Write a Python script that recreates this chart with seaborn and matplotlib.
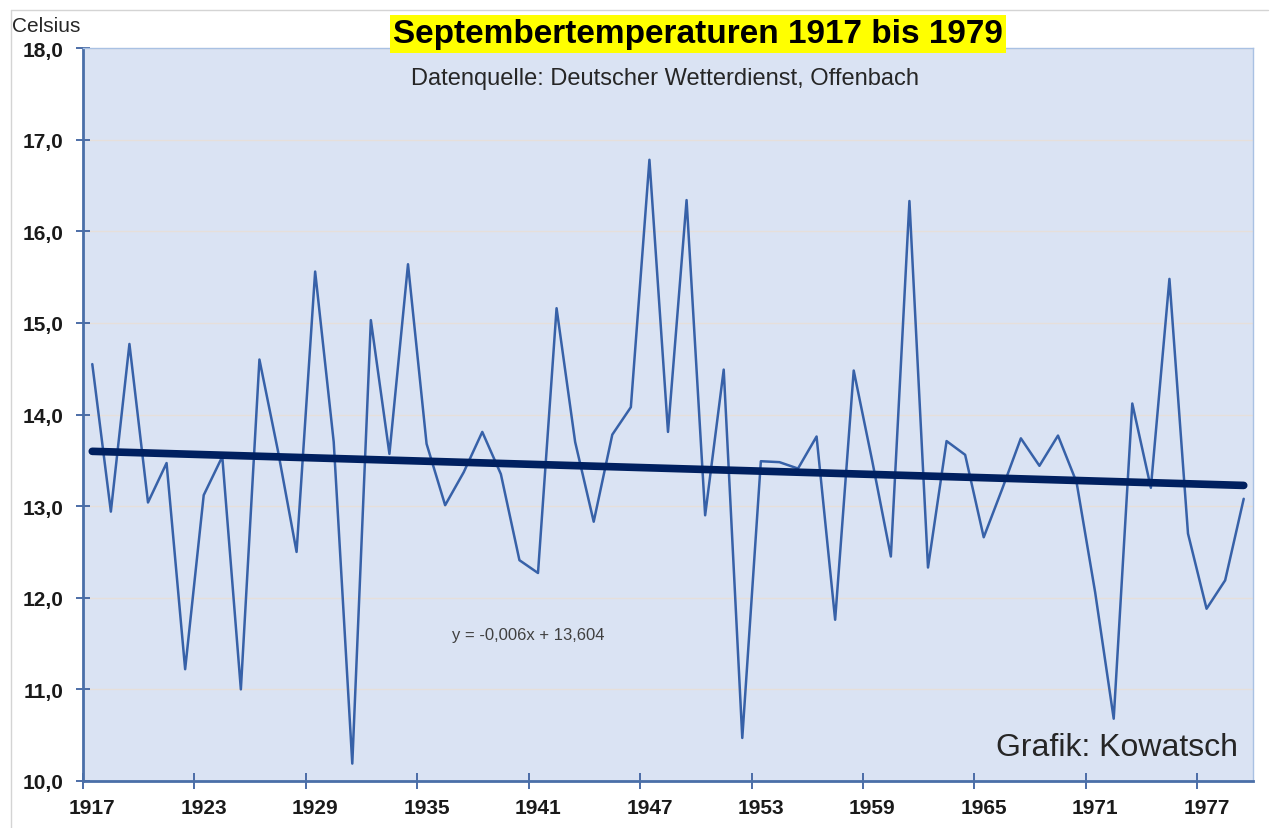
import numpy as np
import pandas as pd
import seaborn as sns
import matplotlib.pyplot as plt
from matplotlib.lines import Line2D

# September-Mitteltemperaturen
jahre = list(range(1917, 1980))
temperatur = [
    14.55, 12.94, 14.77, 13.04, 13.47, 11.22, 13.12, 13.54, 11.00, 14.60,
    13.60, 12.50, 15.56, 13.70, 10.19, 15.03, 13.57, 15.64, 13.68, 13.01,
    13.37, 13.81, 13.35, 12.41, 12.27, 15.16, 13.70, 12.83, 13.78, 14.08,
    16.78, 13.81, 16.34, 12.90, 14.49, 10.47, 13.49, 13.48, 13.41, 13.76,
    11.76, 14.48, 13.49, 12.45, 16.33, 12.33, 13.71, 13.56, 12.66, 13.19,
    13.74, 13.44, 13.77, 13.26, 12.06, 10.68, 14.12, 13.20, 15.48, 12.70,
    11.88, 12.19, 13.08,
]

# lineare Trendlinie laut Beschriftung (x = 1, 2, ... 63)
steigung = -0.006
achsenabschnitt = 13.604
trend_text = "y = -0,006x + 13,604"

titel = "Septembertemperaturen 1917 bis 1979"
quelle = "Datenquelle: Deutscher Wetterdienst, Offenbach"
y_ticks = [10, 11, 12, 13, 14, 15, 16, 17, 18]
x_beschriftung = jahre[::6]

df = pd.DataFrame({"Jahr": jahre, "Temperatur": temperatur})
df["Trend"] = achsenabschnitt + steigung * np.arange(1, len(jahre) + 1)

sns.set_theme(style="white")
plt.rcParams['font.family'] = ['Liberation Sans', 'DejaVu Sans']

W, H = 1280, 829
fig = plt.figure(figsize=(12.8, 8.29), dpi=100)
fig.patch.set_facecolor('white')
ax = fig.add_axes([83 / W, 1 - 782 / H, 1170 / W, 733 / H])
ax.set_facecolor('#DAE3F3')

sns.lineplot(data=df, x="Jahr", y="Temperatur", ax=ax, color='#3761A8', linewidth=1.8)
sns.lineplot(data=df, x="Jahr", y="Trend", ax=ax, color='#002060', linewidth=5.5,
             solid_capstyle='round')

ax.set_xlim(jahre[0] - 0.5, jahre[-1] + 0.5)
ax.set_ylim(10, 18)
ax.set_xlabel('')
ax.set_ylabel('')

# Striche zwischen den Kategorien, Beschriftung in der Mitte
ax.set_xticks([jahre[0] - 0.5 + 6 * k for k in range(11)])
ax.set_xticklabels([])
ax.set_xticks(x_beschriftung, minor=True)
ax.set_xticklabels([str(j) for j in x_beschriftung], minor=True,
                   fontweight='bold', fontsize=15, color='#1a1a1a')
ax.tick_params(axis='x', which='major', direction='inout', length=11, width=1.3,
               color='#3F62A0', bottom=True)
ax.tick_params(axis='x', which='minor', length=0, pad=12, bottom=True)

ax.set_yticks(y_ticks)
ax.set_yticklabels([f"{v:.1f}".replace('.', ',') for v in y_ticks],
                   fontweight='bold', fontsize=15, color='#1a1a1a')
ax.tick_params(axis='y', direction='inout', length=10, width=1.3, color='#3F62A0',
               pad=9, left=True)

ax.yaxis.grid(True, color='#E6DFDA', linewidth=1)
ax.xaxis.grid(False)
ax.set_axisbelow(True)

for s in ['top', 'right']:
    ax.spines[s].set_color('#A9C1E3')
    ax.spines[s].set_linewidth(1)
for s in ['left', 'bottom']:
    ax.spines[s].set_color('#4A6FA8')
    ax.spines[s].set_linewidth(2)

fig.text(698 / W, 1 - 35 / H, titel, ha='center', va='center', fontsize=24,
         fontweight='bold', color='black',
         bbox=dict(facecolor='#FFFF00', edgecolor='none', pad=2.5))
fig.text(665 / W, 1 - 79 / H, quelle, ha='center', va='center', fontsize=17,
         color='#262626')
fig.text(12 / W, 1 - 26 / H, "Celsius", ha='left', va='center', fontsize=15,
         color='#262626')
fig.text(528 / W, 1 - 636 / H, trend_text, ha='center', va='center', fontsize=12,
         color='#404040')
fig.text(1238 / W, 1 - 748 / H, "Grafik: Kowatsch", ha='right', va='center',
         fontsize=23, color='#262626')

# Rahmen der Grafik (oben und links)
fig.add_artist(Line2D([11 / W, 11 / W], [0, 1 - 11 / H], transform=fig.transFigure,
                      color='#D4D4D4', linewidth=1))
fig.add_artist(Line2D([11 / W, 1268 / W], [1 - 11 / H, 1 - 11 / H],
                      transform=fig.transFigure, color='#D4D4D4', linewidth=1))

fig.savefig('out.png', dpi=100)
